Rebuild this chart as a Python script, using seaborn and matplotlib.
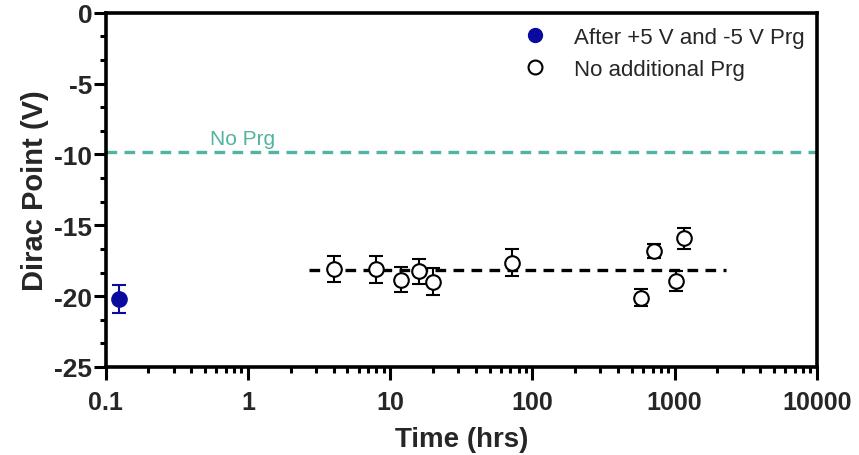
import numpy as np
import pandas as pd
import matplotlib
matplotlib.use("Agg")
import matplotlib.pyplot as plt
from matplotlib.ticker import FixedLocator, LogLocator, NullFormatter, AutoMinorLocator
from matplotlib.lines import Line2D
import seaborn as sns

# Device programmed with +5 V and -5 V pulses
prg_time = [0.125]
prg_dirac = [-20.2]
prg_err = [1.0]

# Device left without additional programming
time_hrs = [4, 8, 12, 16, 20, 72, 576, 720, 1030, 1170]
dirac_v = [-18.1, -18.1, -18.84, -18.25, -19.0, -17.63, -20.1, -16.8, -18.93, -15.93]
dirac_err = [0.9, 0.95, 0.9, 0.9, 0.95, 0.95, 0.6, 0.5, 0.7, 0.75]

# Reference level before any programming, and extent of the mean line
no_prg_level = -9.8
mean_span = [2.7, 2300]

legend_labels = ["After +5 V and -5 V Prg", "No additional Prg"]
x_ticks = [0.1, 1, 10, 100, 1000, 10000]
x_ticklabels = ["0.1", "1", "10", "100", "1000", "10000"]
y_ticks = [0, -5, -10, -15, -20, -25]

blue = "#0a0a9e"
teal = "#52b3a0"

sns.set_theme(style="white")
plt.rcParams["font.family"] = ["Liberation Sans", "DejaVu Sans"]

fig = plt.figure(figsize=(8.59, 4.56), dpi=100)
ax = fig.add_axes([0.123, 0.193, 0.828, 0.777])

df_open = pd.DataFrame({"t": time_hrs, "v": dirac_v})
df_prg = pd.DataFrame({"t": prg_time, "v": prg_dirac})

# Horizontal reference lines
ax.axhline(no_prg_level, color=teal, lw=2.4, ls=(0, (3.2, 2.2)), zorder=1)
ax.text(0.54, no_prg_level + 0.25, "No Prg", color=teal, fontsize=15,
        ha="left", va="bottom")
mean_v = float(np.mean(dirac_v))
sns.lineplot(x=mean_span, y=[mean_v, mean_v], ax=ax, color="black",
             lw=2.4, ls=(0, (3.2, 2.2)), zorder=2)

# Error bars
ax.errorbar(time_hrs, dirac_v, yerr=dirac_err, fmt="none", ecolor="black",
            elinewidth=1.5, capsize=5, capthick=1.5, zorder=3)
ax.errorbar(prg_time, prg_dirac, yerr=prg_err, fmt="none", ecolor=blue,
            elinewidth=1.5, capsize=5, capthick=1.5, zorder=3)

# Markers
sns.scatterplot(data=df_open, x="t", y="v", ax=ax, s=110, marker="o",
                facecolor="white", edgecolor="black", linewidth=1.5, zorder=4)
sns.scatterplot(data=df_prg, x="t", y="v", ax=ax, s=110, marker="o",
                color=blue, edgecolor=blue, linewidth=1.5, zorder=4)

ax.set_xscale("log")
ax.set_xlim(0.1, 10000)
ax.set_ylim(-25, 0)

ax.xaxis.set_major_locator(FixedLocator(x_ticks))
ax.set_xticklabels(x_ticklabels)
ax.xaxis.set_minor_locator(LogLocator(base=10, subs=np.arange(2, 10)))
ax.xaxis.set_minor_formatter(NullFormatter())
ax.yaxis.set_major_locator(FixedLocator(y_ticks))
ax.set_yticklabels([str(v) for v in y_ticks])
ax.yaxis.set_minor_locator(AutoMinorLocator(3))

for lab in ax.get_xticklabels():
    lab.set_fontweight("bold")
    lab.set_fontsize(18)
for lab in ax.get_yticklabels():
    lab.set_fontweight("bold")
    lab.set_fontsize(19)

ax.tick_params(axis="x", which="major", direction="out", length=9.5,
               width=2.2, color="black", pad=7, bottom=True)
ax.tick_params(axis="y", which="major", direction="out", length=8.5,
               width=2.2, color="black", pad=1, left=True)
ax.tick_params(axis="both", which="minor", direction="out", length=4.5,
               width=2.2, color="black", bottom=True, left=True)

for side in ["left", "bottom", "top", "right"]:
    ax.spines[side].set_visible(True)
    ax.spines[side].set_color("black")
    ax.spines[side].set_linewidth(2.6)

ax.set_xlabel("Time (hrs)", fontsize=20, fontweight="bold", labelpad=9)
ax.set_ylabel("Dirac Point (V)", fontsize=21, fontweight="bold", labelpad=4)
ax.grid(False)

handles = [
    Line2D([], [], ls="none", marker="o", markersize=10, markerfacecolor=blue,
           markeredgecolor=blue),
    Line2D([], [], ls="none", marker="o", markersize=10, markerfacecolor="white",
           markeredgecolor="black", markeredgewidth=1.5),
]
ax.legend(handles, legend_labels, loc="upper right", bbox_to_anchor=(1.003, 1.0),
          frameon=False, fontsize=16, handletextpad=0.75, labelspacing=0.5,
          borderaxespad=0.25)

fig.savefig("out.png", dpi=100)
